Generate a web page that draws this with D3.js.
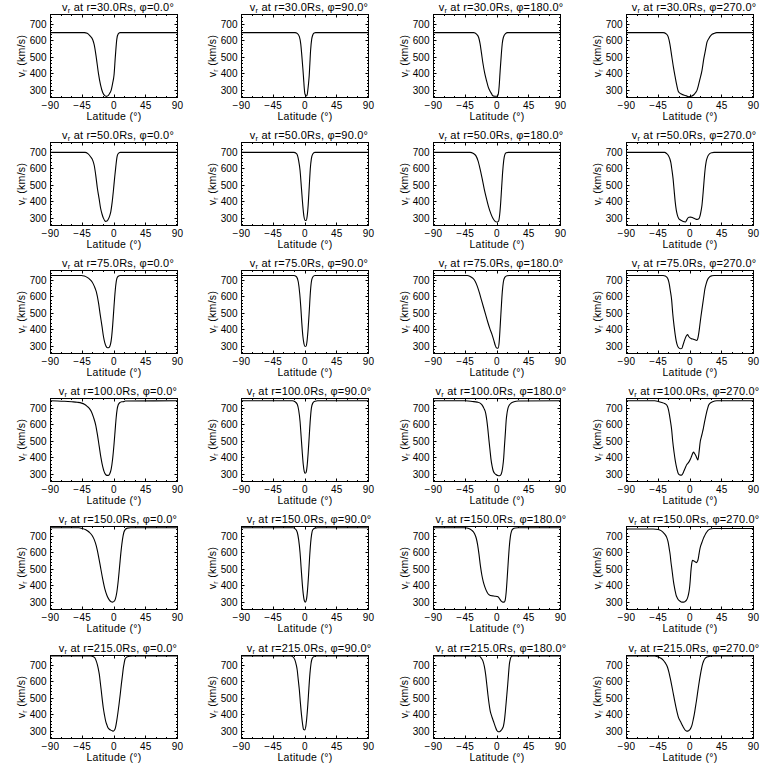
<!DOCTYPE html>
<html><head><meta charset="utf-8">
<script src="https://cdn.jsdelivr.net/npm/d3@7"></script>
<style>body{margin:0;background:#fff}svg{display:block}</style>
</head><body>
<svg id="c" width="768" height="768"></svg>
<script>
// ---------- DATA ----------
const radii = [30, 50, 75, 100, 150, 215];
const phis = [0, 90, 180, 270];
const xTicks = [-90, -45, 0, 45, 90];
const yTicks = [300, 400, 500, 600, 700];
const xDomain = [-90, 90];
const yDomain = [255, 760];

// each series: [latitude (deg), v_r (km/s)]
const r30_phi0 = [[-90,650],[-42,650],[-38,646],[-34,630],[-30,605],[-28,575],[-25,495],[-22,400],[-19,330],[-16,285],[-13,266],[-11,262],[-8,268],[-5.5,285],[-4,300],[-2,340],[0,390],[2,510],[4,610],[6,642],[8.5,650],[90,650]];
const r30_phi90 = [[-90,650],[-14,650],[-11,645],[-8,625],[-6,580],[-4.5,510],[-3,430],[-2,370],[-1,310],[0,275],[1.5,264],[3,270],[4,300],[5,340],[6,390],[7,470],[8,545],[9.5,610],[11,635],[13,648],[15,650],[90,650]];
const r30_phi180 = [[-90,650],[-33,650],[-29,640],[-26,620],[-24,583],[-22,525],[-20,465],[-17.5,405],[-15,360],[-12.5,320],[-10,295],[-8,280],[-6,266],[-3,263],[0,263],[1.5,270],[3,320],[4.5,420],[6,510],[7.5,585],[9,620],[12,644],[15,650],[90,650]];
const r30_phi270 = [[-90,650],[-38,650],[-34,643],[-31,625],[-28.5,580],[-26,510],[-23.5,440],[-21,380],[-19,335],[-16.5,292],[-13,278],[-9,270],[-5,265],[-2,260],[2,263],[5,270],[8,285],[10,300],[12,330],[14,365],[17,420],[19.5,490],[22,545],[24,590],[26.5,613],[30,635],[34,645],[38,650],[90,650]];

const r50_phi0 = [[-90,700],[-41,700],[-37,692],[-33,672],[-30,650],[-28,620],[-26,565],[-23.5,480],[-21,415],[-19,360],[-17,325],[-15,300],[-12,280],[-10,282],[-8.5,290],[-6,315],[-4.5,340],[-2.5,400],[-1,460],[1,550],[2.5,610],[4,665],[5,685],[7,697],[9,700],[90,700]];
const r50_phi90 = [[-90,700],[-16,700],[-12,692],[-9,650],[-7,590],[-5,480],[-3,370],[-1.5,310],[0,287],[1.5,285],[3,310],[4.5,380],[6,490],[7.5,600],[9,660],[11,690],[14,700],[90,700]];
const r50_phi180 = [[-90,700],[-38,700],[-34,695],[-30,680],[-27,650],[-24,600],[-21,540],[-18,475],[-15,420],[-12,370],[-9,330],[-6,300],[-3,282],[0,276],[2,280],[3.5,310],[5,380],[6.5,480],[8,580],[9.5,650],[11,685],[13,697],[16,700],[90,700]];
const r50_phi270 = [[-90,700],[-36,700],[-33,692],[-30.5,680],[-28.5,660],[-27,635],[-25.5,590],[-24,540],[-22.5,470],[-21,400],[-19.5,350],[-18,320],[-16,298],[-14,290],[-11,283],[-8,278],[-6.5,276],[-5,285],[-3.5,298],[-1.5,305],[1,306],[4,302],[7,296],[10,292],[12.5,296],[14,310],[15.5,340],[17,380],[18.5,450],[20,530],[21.5,600],[23,645],[24.5,668],[26,682],[28,692],[31,698],[34,700],[90,700]];

const r75_phi0 = [[-90,730],[-46,730],[-42,726],[-38,718],[-34,705],[-31,690],[-28,665],[-25,630],[-22,565],[-19.5,490],[-17,420],[-15,360],[-13,320],[-11,297],[-9,290],[-7,292],[-5,310],[-3.5,350],[-2,420],[-0.5,510],[1,600],[2.5,670],[4,710],[6,725],[9,730],[90,730]];
const r75_phi90 = [[-90,730],[-16,730],[-12,722],[-9.5,690],[-7.5,620],[-6,540],[-4.5,440],[-3,360],[-1.5,315],[0,298],[1.5,300],[3,335],[4.5,410],[6,510],[7.5,620],[9,690],[11,720],[14,730],[90,730]];
const r75_phi180 = [[-90,730],[-42,730],[-38,724],[-34,712],[-31,695],[-28,665],[-25,625],[-22,580],[-19,535],[-16,490],[-13,445],[-10,405],[-7,370],[-4.5,335],[-2.5,305],[-0.5,288],[1.5,287],[3,320],[4.5,420],[6,530],[7.5,630],[9,690],[11,718],[14,728],[18,730],[90,730]];
const r75_phi270 = [[-90,730],[-38,730],[-35,726],[-33,720],[-31,705],[-29.5,680],[-28,640],[-26,580],[-24.5,500],[-22.5,420],[-21,370],[-19.5,330],[-17.5,300],[-15.5,288],[-13,284],[-11.5,286],[-10,305],[-8.5,325],[-6.5,350],[-4.5,366],[-3.5,370],[-2,360],[0,350],[2.5,344],[5,342],[7,338],[9.5,334],[11,345],[12.5,380],[14,430],[15.5,480],[17.5,540],[19.5,600],[21,645],[23,680],[25,705],[28,722],[31,728],[34,730],[90,730]];

const r100_phi0 = [[-90,746],[-80,745],[-70,743],[-60,740],[-52,737],[-46,732],[-42,725],[-38,712],[-35,700],[-32,680],[-29,645],[-26,600],[-23.5,540],[-21,470],[-18.5,400],[-16,345],[-14,315],[-12,298],[-10,292],[-8,292],[-6,302],[-4,330],[-2,390],[0,480],[1.5,560],[3,640],[4.5,695],[6,722],[8,734],[11,740],[14,741],[16,745],[90,746]];
const r100_phi90 = [[-90,746],[-18,746],[-14,740],[-11,725],[-9,690],[-7,620],[-5.5,530],[-4,440],[-2.5,360],[-1,315],[0,305],[1.5,310],[3,350],[4.5,430],[6,530],[7.5,630],[9,700],[11,732],[14,743],[18,746],[90,746]];
const r100_phi180 = [[-90,746],[-45,746],[-35,742],[-28,738],[-24,732],[-21,720],[-18.5,700],[-16,670],[-14.5,630],[-13,575],[-11.5,510],[-10,450],[-8.5,390],[-7,350],[-5.5,322],[-3.5,305],[-1.5,298],[1,292],[3.5,290],[5.5,296],[7,315],[8.2,346],[9.5,400],[10.5,466],[12,560],[13,626],[14.2,670],[15.5,700],[17.5,720],[20,732],[24,740],[30,745],[90,746]];
const r100_phi270 = [[-90,746],[-50,746],[-45,742],[-40,736],[-36,730],[-33,720],[-31,700],[-29.5,670],[-28,630],[-26,570],[-24.5,500],[-22.5,430],[-21,385],[-19.5,350],[-18,322],[-16.5,302],[-14.5,295],[-12,294],[-10,305],[-8.5,320],[-6.5,340],[-4.5,358],[-2.5,368],[-0.5,382],[1.5,400],[3,418],[5,434],[6.5,425],[8.5,410],[10,395],[11.2,386],[12.2,410],[13,440],[14.6,500],[16,525],[17.4,550],[19,580],[20.3,610],[22,645],[23.2,670],[25,700],[26.5,720],[29,733],[32,740],[38,746],[90,746]];

const r150_phi0 = [[-90,752],[-50,752],[-45,748],[-40,740],[-35,725],[-31,705],[-28,680],[-25,640],[-22,580],[-19,510],[-16,440],[-13,380],[-10,340],[-7,315],[-4,302],[-2,300],[0,304],[2,320],[4,360],[6,430],[8,520],[10,610],[12,680],[14,725],[16,742],[19,750],[24,752],[90,752]];
const r150_phi90 = [[-90,752],[-17,752],[-14,746],[-11,725],[-9,680],[-7,600],[-5.5,510],[-4,420],[-2.5,350],[-1,310],[0.5,300],[2,315],[3.5,370],[5,460],[6.5,570],[8,660],[9.5,715],[11,740],[14,750],[18,752],[90,752]];
const r150_phi180 = [[-90,752],[-45,752],[-40,748],[-36,738],[-32,718],[-29.5,690],[-27.5,650],[-25.5,590],[-23.5,520],[-21.5,465],[-19.5,425],[-17,390],[-14,360],[-11.5,345],[-9,340],[-6,338],[-3,336],[0,334],[2,330],[4,318],[6,306],[8,300],[10,300],[11.5,310],[13,360],[14.5,450],[16,550],[17.5,640],[19,700],[20.5,730],[22.5,745],[26,751],[30,752],[90,752]];
const r150_phi270 = [[-90,745],[-52,745],[-45,742],[-41,735],[-38,724],[-35.5,712],[-33,694],[-31,665],[-29.4,624],[-28,585],[-27,544],[-25.8,505],[-24.6,464],[-23.4,425],[-22.2,394],[-21,367],[-19.8,344],[-18,325],[-16.5,314],[-14,305],[-11.7,300],[-9,300],[-6.9,304],[-5,312],[-3.6,324],[-2,350],[-0.7,384],[0.3,430],[1.2,484],[2.3,530],[3.6,554],[5,552],[6.5,548],[8,543],[9.2,540],[10.5,548],[11.5,560],[12.5,585],[13.6,614],[15,640],[17,664],[19,688],[21,706],[23,722],[25,734],[27,741],[29,745],[33,748],[90,748]];

const r215_phi0 = [[-90,757],[-33,757],[-29,752],[-27,745],[-25.5,730],[-23.7,706],[-22.3,680],[-20.8,645],[-19.4,595],[-18,544],[-16.6,490],[-15.2,442],[-13.5,398],[-11.8,361],[-10,337],[-8.5,320],[-6.5,311],[-4.7,306],[-2.5,302],[-1,300],[0.5,305],[2,320],[3.8,361],[5.5,410],[7.1,462],[8.8,523],[10.4,584],[12,640],[13.3,686],[14.5,715],[15.6,737],[17.5,748],[19,752],[23,756],[26,757],[90,757]];
const r215_phi90 = [[-90,757],[-20,757],[-17,752],[-14.5,735],[-12.5,705],[-11,670],[-9.5,610],[-8,550],[-6.5,470],[-5,400],[-3.5,345],[-2,310],[-0.5,307],[1,325],[2.5,380],[4,460],[5.5,560],[7,650],[8.5,710],[10,740],[12,752],[15,757],[90,757]];
const r215_phi180 = [[-90,757],[-25,757],[-22.5,745],[-19.9,726],[-18,695],[-16.1,645],[-14.5,585],[-12.9,523],[-11.2,465],[-9.6,422],[-8.2,400],[-6.8,381],[-5,360],[-3.5,341],[-1.8,320],[-0.2,304],[1.2,298],[2.6,296],[4.2,298],[5.8,304],[7.5,315],[9.1,330],[10.5,365],[11.9,422],[13.5,500],[15.2,584],[16.4,650],[17.5,706],[18.7,735],[19.9,751],[22.2,757],[90,757]];
const r215_phi270 = [[-90,757],[-50,757],[-46,753],[-42,745],[-38,732],[-35,715],[-32,690],[-30,660],[-28,622],[-26,580],[-24,535],[-22,490],[-20,448],[-18,410],[-16.5,385],[-15,370],[-13.5,358],[-12,345],[-10.5,332],[-9,320],[-7.5,310],[-6,303],[-4.5,300],[-3,300],[-1.5,304],[0,310],[1.5,322],[3,340],[4.5,368],[6,400],[7.5,440],[9,480],[10.5,525],[12,570],[13.5,612],[15,650],[16.5,683],[18,710],[19.5,728],[21,740],[23,748],[26,753],[30,757],[90,757]];

const seriesGrid = [
  [r30_phi0, r30_phi90, r30_phi180, r30_phi270],
  [r50_phi0, r50_phi90, r50_phi180, r50_phi270],
  [r75_phi0, r75_phi90, r75_phi180, r75_phi270],
  [r100_phi0, r100_phi90, r100_phi180, r100_phi270],
  [r150_phi0, r150_phi90, r150_phi180, r150_phi270],
  [r215_phi0, r215_phi90, r215_phi180, r215_phi270]
];

// ---------- LAYOUT ----------
const colLeft = [50, 241, 433, 626];
const rowTop0 = 14, rowStep = 128.1;
const W = 127, H = 83;
const FONT = "'Liberation Sans', Arial, sans-serif";

const svg = d3.select("#c");
svg.append("rect").attr("width", 768).attr("height", 768).attr("fill", "#fff");

const x = d3.scaleLinear().domain(xDomain).range([0, W]);
const y = d3.scaleLinear().domain(yDomain).range([H, 0]);
const xMinor = d3.range(-90, 91, 15).filter(v => !xTicks.includes(v));
const yMinor = d3.range(260, 760, 20).filter(v => !yTicks.includes(v));

const line = d3.line().x(d => x(d[0])).y(d => y(d[1])).curve(d3.curveMonotoneX);

radii.forEach((r, ri) => {
  phis.forEach((p, ci) => {
    const L = colLeft[ci], T = Math.round(rowTop0 + ri * rowStep);
    const g = svg.append("g").attr("transform", `translate(${L + 0.5},${T + 0.5})`);

    // curve
    g.append("path").datum(seriesGrid[ri][ci])
      .attr("d", line).attr("fill", "none").attr("stroke", "#000").attr("stroke-width", 1.1);

    // frame
    g.append("rect").attr("width", W).attr("height", H)
      .attr("fill", "none").attr("stroke", "#000").attr("stroke-width", 1);

    // ticks: bottom/top, left/right (inward)
    const tk = g.append("g").attr("stroke", "#000").attr("stroke-width", 1);
    xTicks.forEach(v => {
      tk.append("line").attr("x1", Math.round(x(v))).attr("x2", Math.round(x(v))).attr("y1", H).attr("y2", H - 3);
      tk.append("line").attr("x1", Math.round(x(v))).attr("x2", Math.round(x(v))).attr("y1", 0).attr("y2", 3);
    });
    xMinor.forEach(v => {
      tk.append("line").attr("x1", Math.round(x(v))).attr("x2", Math.round(x(v))).attr("y1", H).attr("y2", H - 1.5);
      tk.append("line").attr("x1", Math.round(x(v))).attr("x2", Math.round(x(v))).attr("y1", 0).attr("y2", 1.5);
    });
    yTicks.forEach(v => {
      tk.append("line").attr("y1", Math.round(y(v))).attr("y2", Math.round(y(v))).attr("x1", 0).attr("x2", 3);
      tk.append("line").attr("y1", Math.round(y(v))).attr("y2", Math.round(y(v))).attr("x1", W).attr("x2", W - 3);
    });
    yMinor.forEach(v => {
      tk.append("line").attr("y1", Math.round(y(v))).attr("y2", Math.round(y(v))).attr("x1", 0).attr("x2", 1.5);
      tk.append("line").attr("y1", Math.round(y(v))).attr("y2", Math.round(y(v))).attr("x1", W).attr("x2", W - 1.5);
    });

    // tick labels
    xTicks.forEach(v => {
      g.append("text").attr("x", x(v)).attr("y", H + 11)
        .attr("text-anchor", "middle").attr("font-family", FONT).attr("font-size", 10)
        .attr("letter-spacing", 0.3)
        .text(v < 0 ? "\u2212" + Math.abs(v) : String(v));
    });
    yTicks.forEach(v => {
      g.append("text").attr("x", -4).attr("y", y(v) + 3.5)
        .attr("text-anchor", "end").attr("font-family", FONT).attr("font-size", 10)
        .text(v);
    });

    // x label
    g.append("text").attr("x", W / 2).attr("y", H + 22)
      .attr("text-anchor", "middle").attr("font-family", FONT).attr("font-size", 10.5)
      .attr("letter-spacing", 0.3)
      .text("Latitude (\u00B0)");

    // y label
    const yl = g.append("text").attr("transform", `translate(-26,${H / 2}) rotate(-90)`)
      .attr("text-anchor", "middle").attr("font-family", FONT).attr("font-size", 10.5)
      .attr("letter-spacing", 0.3);
    yl.append("tspan").text("v");
    yl.append("tspan").attr("font-size", 7).attr("dy", 2).text("r");
    yl.append("tspan").attr("dy", -2).text(" (km/s)");

    // title
    const tt = g.append("text").attr("x", W / 2 + 4).attr("y", -4)
      .attr("text-anchor", "middle").attr("font-family", FONT).attr("font-size", 11)
      .attr("letter-spacing", 0.2);
    tt.append("tspan").text("v");
    tt.append("tspan").attr("font-size", 7.5).attr("dy", 2).text("r");
    tt.append("tspan").attr("dy", -2).text(` at r=${r.toFixed(1)}Rs, \u03C6=${p.toFixed(1)}\u00B0`);
  });
});
</script>
</body></html>
